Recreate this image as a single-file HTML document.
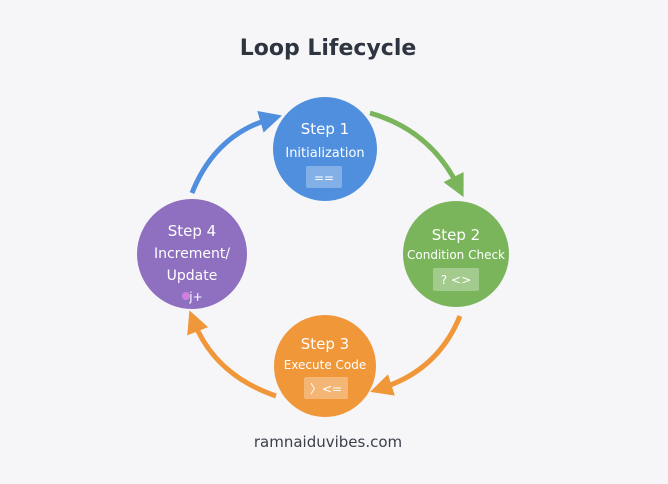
<!DOCTYPE html>
<html><head><style>
body{margin:0;width:668px;height:480px;background:#f6f6f9;overflow:hidden;font-family:"DejaVu Sans","Liberation Sans",sans-serif;}
</style></head><body>
<svg width="668" height="480" viewBox="0 0 668 480" xmlns="http://www.w3.org/2000/svg">
<defs>
<marker id="hb" markerWidth="4.5" markerHeight="4.5" refX="2" refY="2.25" orient="auto" markerUnits="strokeWidth"><path d="M0,0 L4.5,2.25 L0,4.5 z" fill="#4f8fde"/></marker>
<marker id="hg" markerWidth="4.5" markerHeight="4.5" refX="2" refY="2.25" orient="auto" markerUnits="strokeWidth"><path d="M0,0 L4.5,2.25 L0,4.5 z" fill="#7ab55c"/></marker>
<marker id="ho" markerWidth="4.5" markerHeight="4.5" refX="2" refY="2.25" orient="auto" markerUnits="strokeWidth"><path d="M0,0 L4.5,2.25 L0,4.5 z" fill="#f0973a"/></marker>
</defs>
<text x="328" y="55" text-anchor="middle" font-size="22" font-weight="bold" fill="#2e3440">Loop Lifecycle</text>
<path d="M192,193 Q215,135 270,119" stroke="#4f8fde" stroke-width="5" fill="none" marker-end="url(#hb)"/>
<path d="M370,113 Q430,130 458,186" stroke="#7ab55c" stroke-width="5" fill="none" marker-end="url(#hg)"/>
<path d="M460,316 Q438,370 382,388" stroke="#f0973a" stroke-width="5" fill="none" marker-end="url(#ho)"/>
<path d="M276,396 Q215,375 194,322" stroke="#f0973a" stroke-width="5" fill="none" marker-end="url(#ho)"/>
<circle cx="325" cy="149" r="52" fill="#4f8fde"/>
<circle cx="456" cy="254" r="53" fill="#7ab55c"/>
<circle cx="325" cy="366" r="51" fill="#f0973a"/>
<circle cx="192" cy="254" r="55" fill="#8e6fc0"/>
<g fill="#fff" text-anchor="middle">
<text x="325" y="134" font-size="15">Step 1</text>
<text x="325" y="157" font-size="13">Initialization</text>
<rect x="306" y="166" width="36" height="22" rx="2" fill="#fff" fill-opacity="0.3"/>
<text x="324" y="182" font-size="12">==</text>
<text x="456" y="240" font-size="15">Step 2</text>
<text x="456" y="259" font-size="12">Condition Check</text>
<rect x="433" y="268" width="46" height="23" rx="2" fill="#fff" fill-opacity="0.3"/>
<text x="456" y="284" font-size="12">? &lt;&gt;</text>
<text x="325" y="349" font-size="15">Step 3</text>
<text x="325" y="369" font-size="12">Execute Code</text>
<rect x="304" y="377" width="44" height="22" rx="2" fill="#fff" fill-opacity="0.3"/>
<text x="326" y="393" font-size="12">〉&lt;=</text>
<text x="192" y="236" font-size="15">Step 4</text>
<text x="192" y="258" font-size="14">Increment/</text>
<text x="192" y="280" font-size="14">Update</text>
<circle cx="186" cy="296" r="4" fill="#d080e0"/>
<text x="196" y="301" font-size="12">j+</text>
</g>
<text x="328" y="447" text-anchor="middle" font-size="15" fill="#3a3f4a">ramnaiduvibes.com</text>
</svg>
</body></html>
